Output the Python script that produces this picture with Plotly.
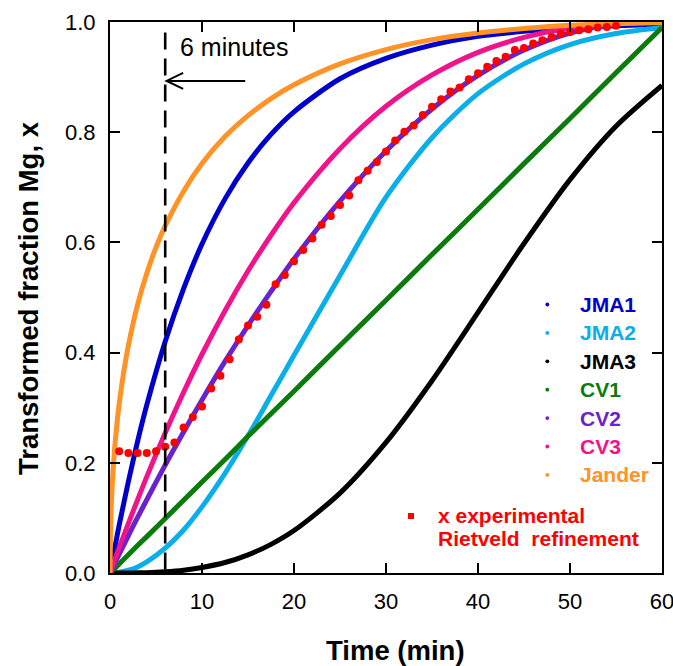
import plotly.graph_objects as go

# Time grid (min) for the kinetic model curves
t_model = [0, 0.5, 1, 2, 3, 4, 6, 8, 10, 12.5, 15, 17.5, 20, 25, 30, 35, 40, 45, 50, 55, 60]

jma1 = [0, 0.044, 0.087, 0.166, 0.239, 0.305, 0.420, 0.516, 0.597, 0.679, 0.744, 0.796,
        0.837, 0.897, 0.934, 0.958, 0.974, 0.983, 0.989, 0.993, 0.996]
jma2 = [0, 0.0003, 0.0013, 0.005, 0.011, 0.020, 0.045, 0.078, 0.120, 0.181, 0.249, 0.322,
        0.395, 0.540, 0.682, 0.790, 0.870, 0.924, 0.959, 0.979, 0.990]
jma3 = [0, 0, 0, 0.0001, 0.0003, 0.0006, 0.0022, 0.005, 0.010, 0.019, 0.033, 0.052,
        0.077, 0.145, 0.237, 0.349, 0.473, 0.598, 0.714, 0.811, 0.885]
cv1 = [0, 0.008, 0.0165, 0.033, 0.050, 0.066, 0.099, 0.132, 0.165, 0.206, 0.248, 0.289,
       0.330, 0.413, 0.495, 0.578, 0.660, 0.743, 0.825, 0.908, 0.990]
cv2 = [0, 0.017, 0.034, 0.068, 0.101, 0.133, 0.196, 0.256, 0.314, 0.384, 0.449, 0.511,
       0.570, 0.675, 0.766, 0.842, 0.903, 0.949, 0.980, 0.997, 1.0]
cv3 = [0, 0.023, 0.046, 0.090, 0.133, 0.175, 0.254, 0.328, 0.397, 0.476, 0.548, 0.613,
       0.672, 0.770, 0.847, 0.904, 0.945, 0.972, 0.989, 0.997, 1.0]

# Jander curve rises very steeply at the start, so it has its own finer grid
t_jander = [0, 0.05, 0.1, 0.2, 0.3, 0.5, 0.75, 1, 1.5, 2, 3, 4, 5, 6, 8, 10, 12.5, 15,
            17.5, 20, 25, 30, 35, 40, 45, 50, 55, 60]
jander = [0, 0.075, 0.105, 0.147, 0.177, 0.225, 0.270, 0.307, 0.366, 0.413, 0.487, 0.544,
          0.591, 0.630, 0.693, 0.743, 0.792, 0.830, 0.861, 0.886, 0.924, 0.950, 0.968,
          0.980, 0.988, 0.994, 0.997, 0.999]

# Experimental fraction from Rietveld refinement
t_exp = list(range(1, 56))
x_exp = [0.221, 0.218, 0.218, 0.218, 0.221, 0.229, 0.237, 0.264, 0.283, 0.302,
         0.335, 0.358, 0.388, 0.424, 0.449, 0.465, 0.487, 0.524, 0.541, 0.566,
         0.586, 0.607, 0.632, 0.648, 0.668, 0.685, 0.713, 0.730, 0.746, 0.765,
         0.785, 0.801, 0.812, 0.831, 0.846, 0.860, 0.874, 0.881, 0.896, 0.907,
         0.919, 0.929, 0.937, 0.949, 0.953, 0.961, 0.967, 0.973, 0.979, 0.982,
         0.985, 0.987, 0.990, 0.991, 0.993]

series_names = ["JMA1", "JMA2", "JMA3", "CV1", "CV2", "CV3", "Jander"]
series_colors = ["#0000cd", "#0aaee8", "#000000", "#0b7c0b", "#6a22cf", "#f0148c", "#ff9326"]
series_x = [t_model] * 6 + [t_jander]
series_y = [jma1, jma2, jma3, cv1, cv2, cv3, jander]

x_ticks = [0, 10, 20, 30, 40, 50, 60]
y_ticks = [0.0, 0.2, 0.4, 0.6, 0.8, 1.0]

FONT = "Liberation Sans, Arial, Helvetica, sans-serif"

fig = go.Figure()
for name, color, xs, ys in zip(series_names, series_colors, series_x, series_y):
    fig.add_trace(go.Scatter(
        x=xs, y=ys, mode="lines", name=name, showlegend=False, cliponaxis=False,
        line=dict(color=color, width=5, shape="spline", smoothing=0.8),
    ))

fig.add_trace(go.Scatter(
    x=t_exp, y=x_exp, mode="markers", name="x experimental", showlegend=False,
    marker=dict(color="#ff0000", size=8, line=dict(width=0)),
))

# Plot-area pixel geometry
L, R, T, B = 110, 11, 22, 93
W, H = 673, 666
pw, ph = W - L - R, H - T - B


def px(xp):
    return (xp - L) / pw


def py(yp):
    return (H - B - yp) / ph


annotations = []
shapes = []

# Legend built from coloured bold labels with small dot keys
leg_y0, leg_dy = 304.5, 28.4
for i, (name, color) in enumerate(zip(series_names, series_colors)):
    yy = py(leg_y0 + i * leg_dy)
    annotations.append(dict(
        x=px(578), y=yy, xref="paper", yref="paper", xanchor="left", yanchor="middle",
        text="<b>%s</b>" % name, showarrow=False,
        font=dict(family=FONT, size=21, color=color),
    ))
    shapes.append(dict(
        type="circle", xref="paper", yref="paper", xsizemode="pixel", ysizemode="pixel",
        xanchor=px(547.3), yanchor=yy, x0=-1.9, x1=1.9, y0=-1.9, y1=1.9,
        fillcolor=color, line=dict(width=0),
    ))

shapes.append(dict(
    type="rect", xref="paper", yref="paper", xsizemode="pixel", ysizemode="pixel",
    xanchor=px(411), yanchor=py(516), x0=-3, x1=3, y0=-3, y1=3,
    fillcolor="#ff0000", line=dict(width=0),
))
for txt, yp in [("x experimental", 515), ("Rietveld  refinement", 538.5)]:
    annotations.append(dict(
        x=px(436), y=py(yp), xref="paper", yref="paper", xanchor="left", yanchor="middle",
        text="<b>%s</b>" % txt, showarrow=False,
        font=dict(family=FONT, size=21, color="#ff0000"),
    ))

# Axis titles
annotations.append(dict(
    x=px(395), y=py(650), xref="paper", yref="paper", xanchor="center", yanchor="middle",
    text="<b>Time (min)</b>", showarrow=False, font=dict(family=FONT, size=27.5, color="black"),
))
annotations.append(dict(
    x=px(28), y=py(298), xref="paper", yref="paper", xanchor="center", yanchor="middle",
    text="<b>Transformed fraction Mg, x</b>", textangle=-90, showarrow=False,
    font=dict(family=FONT, size=27.5, color="black"),
))

# 6-minute marker: dashed line, label and arrow
t_mark = 6
annotations.append(dict(
    x=7.35, y=0.955, xref="x", yref="y", xanchor="left", yanchor="middle",
    text="6 minutes", showarrow=False, font=dict(family=FONT, size=25, color="black"),
))
shapes.append(dict(
    type="line", xref="x", yref="y", x0=t_mark, x1=t_mark, y0=0.981, y1=0,
    line=dict(color="black", width=2.6, dash="17px,9px"),
))
tip_x, tip_y = 6.15, 0.893
shapes.append(dict(
    type="line", xref="x", yref="y", x0=tip_x, x1=14.7, y0=tip_y, y1=tip_y,
    line=dict(color="black", width=2),
))
shapes.append(dict(
    type="path", xref="x", yref="y",
    path="M %.3f,%.4f L %.3f,%.4f L %.3f,%.4f" % (tip_x + 1.8, tip_y + 0.0145, tip_x, tip_y,
                                                   tip_x + 1.8, tip_y - 0.0145),
    line=dict(color="black", width=2),
))

axis_common = dict(
    showline=True, linecolor="black", linewidth=2, mirror="ticks",
    ticks="inside", ticklen=10, tickwidth=1.5, tickcolor="black",
    showgrid=False, zeroline=False, automargin=False, ticklabeloverflow="allow",
    tickfont=dict(family=FONT, size=22, color="black"),
)

fig.update_layout(
    width=W, height=H,
    margin=dict(l=L, r=R, t=T, b=B, pad=0, autoexpand=False),
    paper_bgcolor="white", plot_bgcolor="white",
    showlegend=False,
    xaxis=dict(range=[0, 60], tickvals=x_ticks, ticktext=[str(v) for v in x_ticks],
               ticklabelstandoff=8, **axis_common),
    yaxis=dict(range=[0, 1], tickvals=y_ticks, ticktext=["%.1f" % v for v in y_ticks],
               ticklabelstandoff=8, **axis_common),
    annotations=annotations,
    shapes=shapes,
)

fig.write_html("out.html")
